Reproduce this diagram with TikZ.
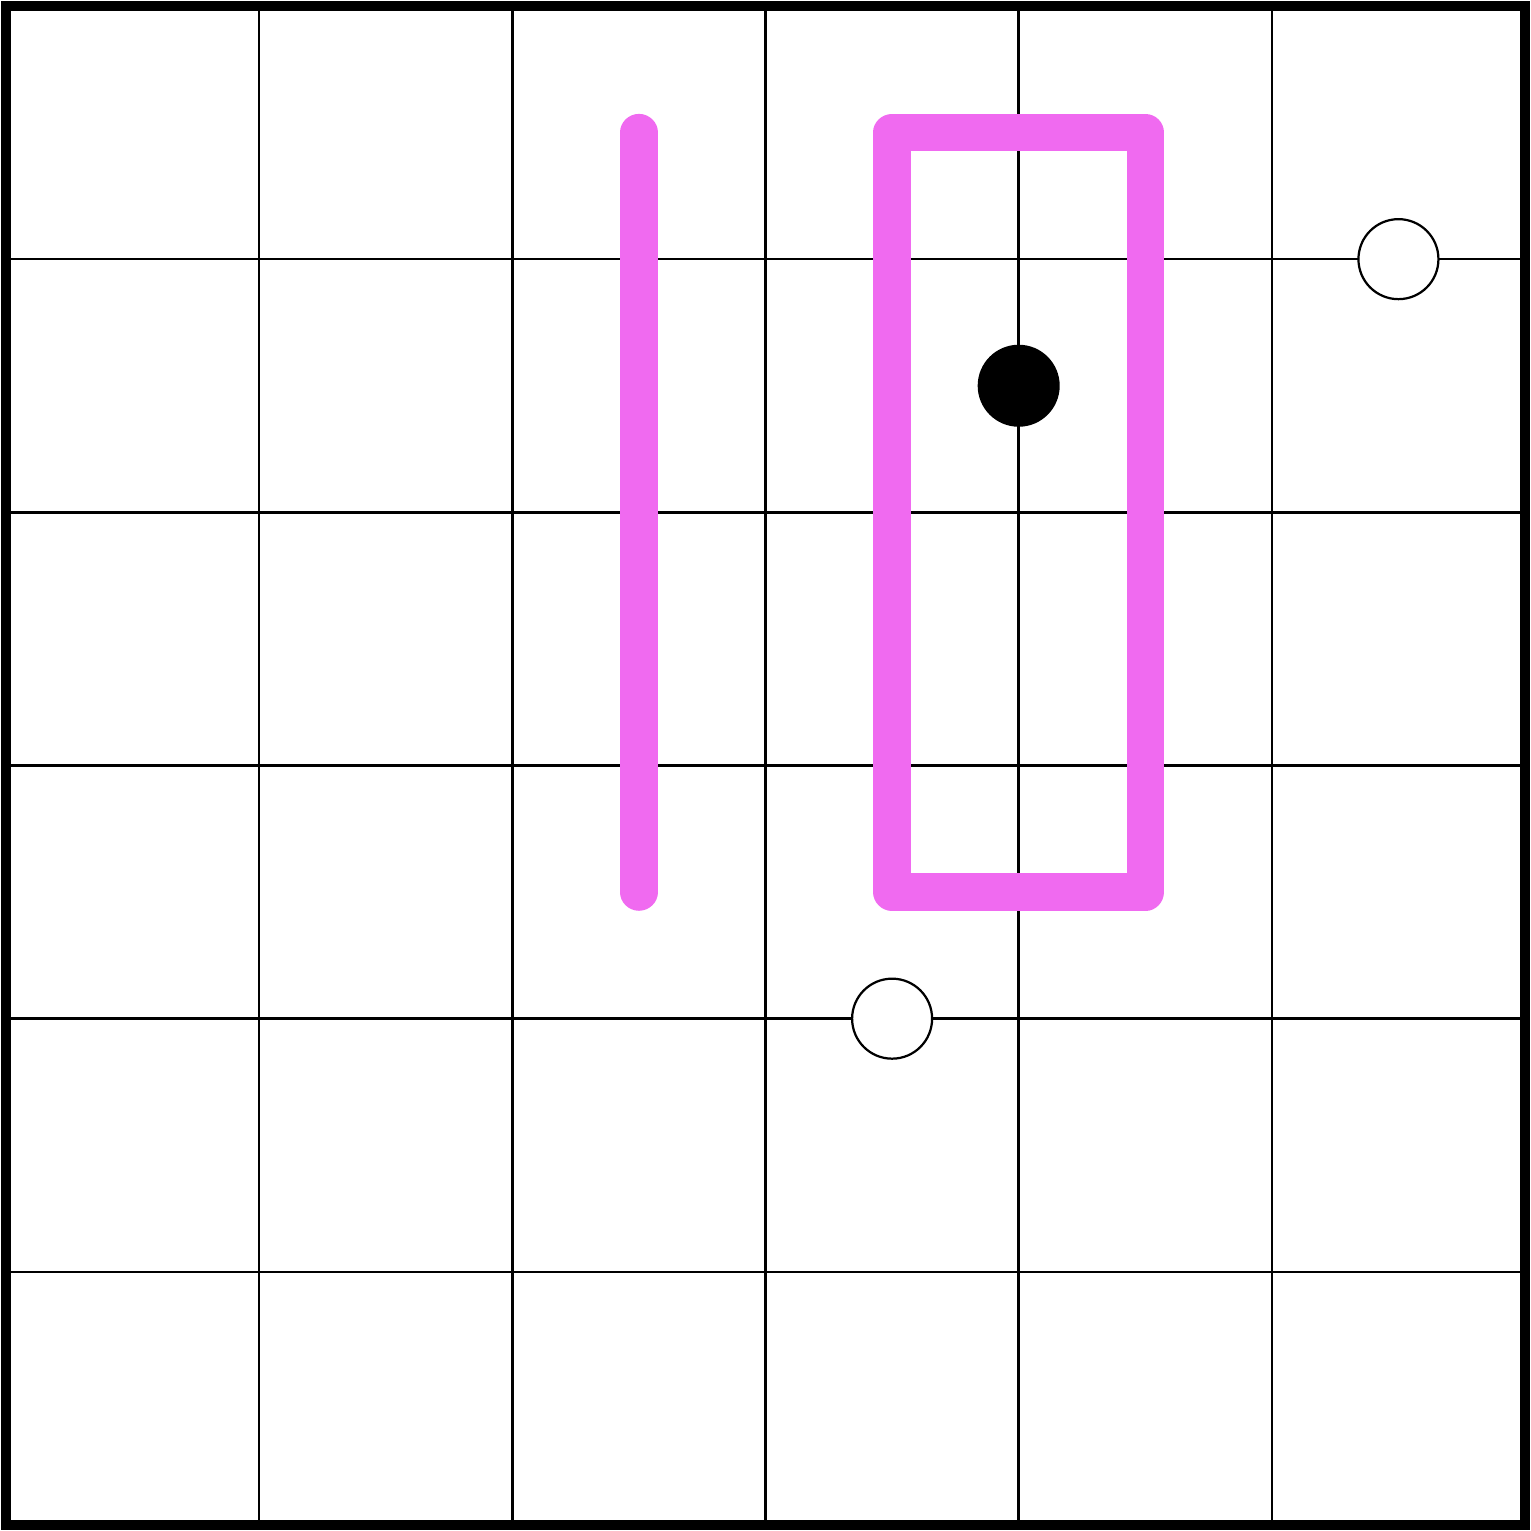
\documentclass[tikz,border=0pt]{standalone}
\definecolor{mag}{RGB}{240,106,240}
\tikzset{
  gridline/.style={line width=0.28pt, black},
  border/.style={line width=1.15pt, black},
  magline/.style={mag, line width=4.2pt, line cap=round, line join=round},
  opendot/.style={circle, draw=black, fill=white, line width=0.25pt, minimum size=0.316cm, inner sep=0pt},
  filldot/.style={circle, fill=black, minimum size=0.324cm, inner sep=0pt}
}
\begin{document}
\begin{tikzpicture}[x=1cm,y=-1cm]
\useasboundingbox (-0.0237,-0.0237) rectangle (6.0237,6.0237);
\fill[white] (-0.0237,-0.0237) rectangle (6.0237,6.0237);
\foreach \i in {1,...,5} {
  \draw[gridline] (\i,0) -- (\i,6);
  \draw[gridline] (0,\i) -- (6,\i);
}
\draw[magline] (2.5,0.5) -- (2.5,3.5);
\draw[magline] (3.5,0.5) rectangle (4.5,3.5);
\node[filldot] (b) at (4,1.5) {};
\node[opendot] (w1) at (5.5,1) {};
\node[opendot] (w2) at (3.5,4) {};
\draw[border] (0,0) rectangle (6,6);
\end{tikzpicture}
\end{document}
